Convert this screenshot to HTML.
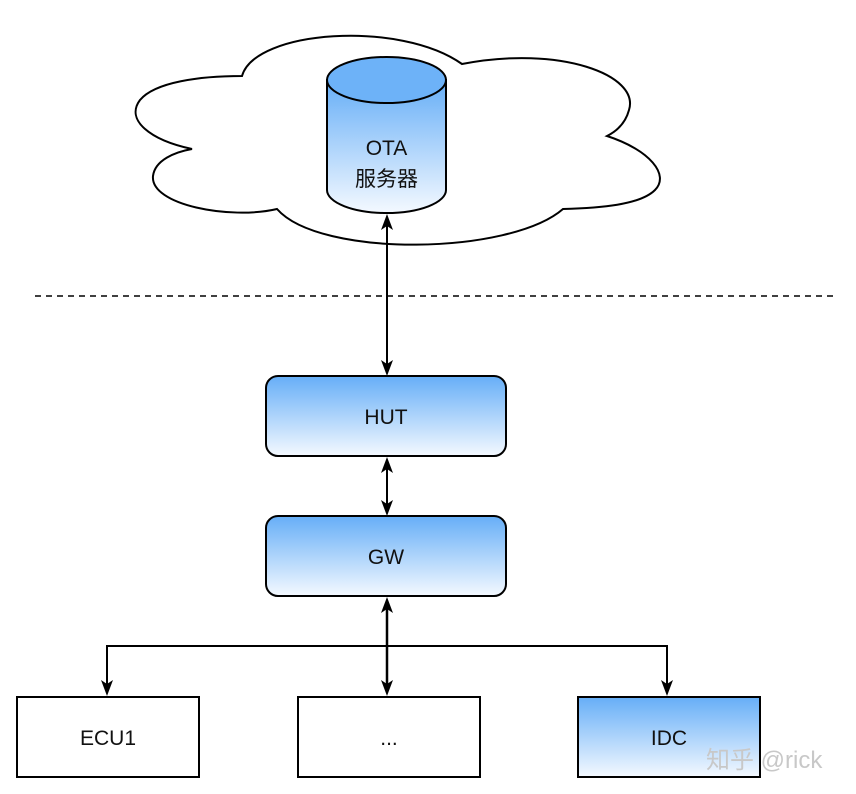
<!DOCTYPE html>
<html><head><meta charset="utf-8"><style>
html,body{margin:0;padding:0;background:#fff;}
svg{display:block;}
text{font-family:"Liberation Sans","Noto Sans CJK SC",sans-serif;font-size:21px;fill:#111;}
</style></head><body>
<svg width="856" height="794" viewBox="0 0 856 794" xmlns="http://www.w3.org/2000/svg">
<defs>
<linearGradient id="g" x1="0" y1="0" x2="0" y2="1">
<stop offset="0" stop-color="#66aef7"/><stop offset="1" stop-color="#f4f9ff"/>
</linearGradient>
</defs>
<!-- cloud -->
<path d="M242,76 C255,30 400,20 462,64 C560,45 640,75 629,110 C625,125 615,132 607,136 C650,150 670,175 655,190 C640,205 600,208 563,209 C510,255 320,258 277,209 C230,220 150,205 153,176 C155,160 175,152 192,149 C150,140 125,120 140,100 C155,82 200,76 242,76 Z" fill="#fff" stroke="#000" stroke-width="2"/>
<!-- cylinder -->
<path d="M327,80 L327,190 A59.5,23 0 0 0 446,190 L446,80 Z" fill="url(#g)" stroke="#000" stroke-width="2"/>
<ellipse cx="386.5" cy="80" rx="59.5" ry="23" fill="#6db2f8" stroke="#000" stroke-width="2"/>
<text x="386.5" y="155" text-anchor="middle">OTA</text>
<text x="386.5" y="186" text-anchor="middle">服务器</text>
<!-- dashed -->
<line x1="35" y1="296" x2="835" y2="296" stroke="#000" stroke-width="1.5" stroke-dasharray="6,5"/>
<!-- lines -->
<g stroke="#000" fill="none">
<line x1="387" y1="222" x2="387" y2="368" stroke-width="2"/>
<line x1="387" y1="464" x2="387" y2="508" stroke-width="2"/>
<line x1="387" y1="604" x2="387" y2="688" stroke-width="2.5"/>
<path d="M387,646 L107,646 L107,688" stroke-width="2"/>
<path d="M387,646 L667,646 L667,688" stroke-width="2"/>
</g>
<!-- arrowheads -->
<g fill="#000">
<polygon points="387,214 381,230 387,226 393,230"/>
<polygon points="387,376 381,360 387,364 393,360"/>
<polygon points="387,457 381,473 387,469 393,473"/>
<polygon points="387,516 381,500 387,504 393,500"/>
<polygon points="387,597 381,613 387,609 393,613"/>
<polygon points="387,696 381,680 387,684 393,680"/>
<polygon points="107,696 101,680 107,684 113,680"/>
<polygon points="667,696 661,680 667,684 673,680"/>
</g>
<!-- boxes -->
<rect x="266" y="376" width="240" height="80" rx="12" fill="url(#g)" stroke="#000" stroke-width="2"/>
<text x="386" y="424" text-anchor="middle">HUT</text>
<rect x="266" y="516" width="240" height="80" rx="12" fill="url(#g)" stroke="#000" stroke-width="2"/>
<text x="386" y="564" text-anchor="middle">GW</text>
<rect x="17" y="697" width="182" height="80" fill="#fff" stroke="#000" stroke-width="2"/>
<text x="108" y="745" text-anchor="middle">ECU1</text>
<rect x="298" y="697" width="182" height="80" fill="#fff" stroke="#000" stroke-width="2"/>
<text x="389" y="745" text-anchor="middle">...</text>
<rect x="578" y="697" width="182" height="80" fill="url(#g)" stroke="#000" stroke-width="2"/>
<text x="669" y="745" text-anchor="middle">IDC</text>
<text x="706" y="768" style="font-size:24px;fill:#c8c8c8;">知乎 @rick</text>
</svg>
</body></html>
